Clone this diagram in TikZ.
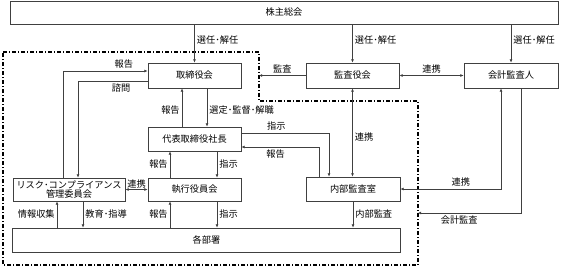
\documentclass[tikz,border=0pt]{standalone}
\usepackage{fontspec}
\newfontfamily\jpfont{Noto Sans CJK JP}
\usetikzlibrary{arrows.meta,positioning,calc}
\tikzset{
  orgbox/.style={draw=black!75, line width=0.8pt, fill=white, align=center, inner sep=0pt, minimum height=24pt},
  orgline/.style={-{Latex[length=3.2pt,width=3pt]}, draw=black!75, line width=0.7pt},
  orgboth/.style={{Latex[length=3.2pt,width=3pt]}-{Latex[length=3.2pt,width=3pt]}, draw=black!75, line width=0.7pt},
  orglabel/.style={inner sep=2pt},
  orgscope/.style={draw=black, line width=1.1pt, dash pattern=on 4pt off 2pt on 1pt off 2pt}
}

\begin{document}
\begin{tikzpicture}[x=1pt, y=-1pt, font=\jpfont\fontsize{9.2}{10.5}\selectfont]
  \useasboundingbox (0,0) rectangle (561,267);
  % boxes
  \node[orgbox, minimum width=548pt, minimum height=23pt] (agm) at (284,12.5) {株主総会};
  \node[orgbox, minimum width=93pt, minimum height=25pt] (board) at (194.5,75.5) {取締役会};
  \node[orgbox, minimum width=93pt, minimum height=25pt] (kansa) at (352.5,75.5) {監査役会};
  \node[orgbox, minimum width=94pt, minimum height=25pt] (auditor) at (511,75.5) {会計監査人};
  \node[orgbox, minimum width=93pt] (ceo) at (194.5,139) {代表取締役社長};
  \node[orgbox, minimum width=93pt, minimum height=23pt] (exec) at (194.5,189.5) {執行役員会};
  \node[orgbox, minimum width=112pt, minimum height=23pt] (risk) at (69,189.5) {リスク･コンプライアンス\\[-1.5pt]管理委員会};
  \node[orgbox, minimum width=94pt] (internal) at (353,189) {内部監査室};
  \node[orgbox, minimum width=388pt] (depts) at (206.5,240) {各部署};

  % dash-dot boundary
  \coordinate (bnd1) at (3,52);
  \coordinate (bnd2) at (259,52);
  \coordinate (bnd3) at (259,101);
  \coordinate (bnd4) at (418,101);
  \coordinate (bnd5) at (418,265);
  \coordinate (bnd6) at (3,265);
  \draw[orgscope] (bnd1) -- (bnd2) -- (bnd3) -- (bnd4) -- (bnd5) -- (bnd6) -- cycle;
  \coordinate (kansaEnd) at (259,75.5);
  \coordinate (auditEnd) at (418,213);

  % shareholders
  \draw[orgline] (board.north |- agm.south) -- node[orglabel, right, pos=0.4] {選任･解任} (board.north);
  \draw[orgline] (kansa.north |- agm.south) -- node[orglabel, right, pos=0.4] {選任･解任} (kansa.north);
  \draw[orgline] (auditor.north |- agm.south) -- node[orglabel, right, pos=0.4] {選任･解任} (auditor.north);

  % audit board
  \draw[orgline] (kansa.west) -- node[orglabel, above] {監査} (kansaEnd);
  \draw[orgboth] (kansa.east) -- node[orglabel, above] {連携} (auditor.west);
  \draw[orgboth] (kansa.south) -- node[orglabel, right, pos=0.55] {連携} (kansa.south |- internal.north);
  \draw[orgboth] ([xshift=-10pt]auditor.south) |- node[orglabel, above, pos=0.7] {連携} (internal.east);
  \draw[orgline] ([xshift=10pt]auditor.south) |- node[orglabel, below, pos=0.8] {会計監査} (auditEnd);

  % board and risk committee
  \draw[orgline] ([xshift=-6pt]risk.north) |- node[orglabel, above, pos=0.86] {報告} ([yshift=4.5pt]board.west);
  \draw[orgline] ([yshift=-5.5pt]board.west) -| node[orglabel, below, pos=0.19] {諮問} ([xshift=9pt]risk.north);

  % board and president
  \draw[orgline] ([xshift=-12.5pt]ceo.north) -- node[orglabel, left, pos=0.43] {報告} ([xshift=-12.5pt]board.south);
  \draw[orgline] ([xshift=12.5pt]board.south) -- node[orglabel, right, pos=0.57] {選定･監督･解職} ([xshift=12.5pt]ceo.north);

  % president and internal audit
  \draw[orgline] ([yshift=6pt]ceo.east) -| node[orglabel, above, pos=0.2] {指示} ([xshift=-24pt]internal.north);
  \draw[orgline] ([xshift=-34pt]internal.north) |- node[orglabel, below, pos=0.78] {報告} ([yshift=-8pt]ceo.east);

  % president and executive committee
  \draw[orgline] ([xshift=-24.5pt]exec.north) -- node[orglabel, left] {報告} ([xshift=-24.5pt]ceo.south);
  \draw[orgline] ([xshift=22.5pt]ceo.south) -- node[orglabel, right] {指示} ([xshift=22.5pt]exec.north);
  \draw[orgboth] (risk.east) -- node[orglabel, above, inner sep=1pt] {連携} (exec.west);

  % departments
  \draw[orgline] ([xshift=-24.5pt]exec.south |- depts.north) -- node[orglabel, left] {報告} ([xshift=-24.5pt]exec.south);
  \draw[orgline] ([xshift=22.5pt]exec.south) -- node[orglabel, right] {指示} ([xshift=22.5pt]exec.south |- depts.north);
  \draw[orgline] ([xshift=-12pt]risk.south |- depts.north) -- node[orglabel, left] {情報収集} ([xshift=-12pt]risk.south);
  \draw[orgline] ([xshift=14pt]risk.south) -- node[orglabel, right] {教育･指導} ([xshift=14pt]risk.south |- depts.north);
  \draw[orgline] (internal.south) -- node[orglabel, right] {内部監査} (internal.south |- depts.north);
\end{tikzpicture}
\end{document}
